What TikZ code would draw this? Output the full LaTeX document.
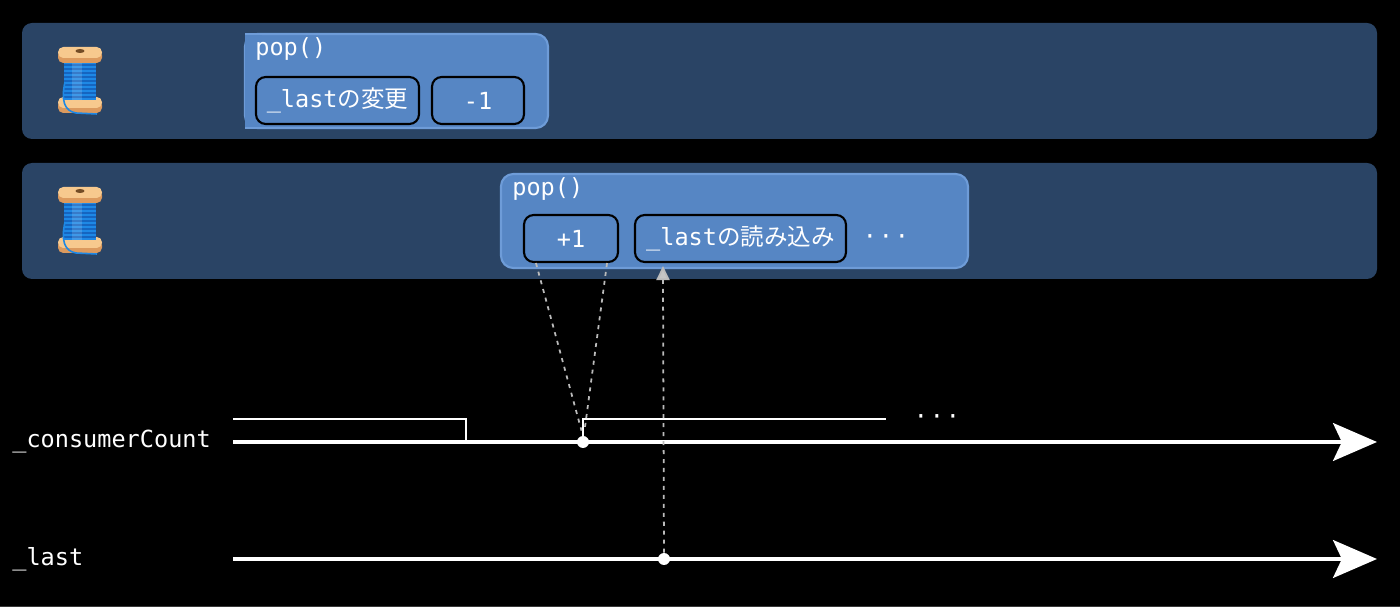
\documentclass[tikz,border=0pt]{standalone}
\usepackage{fontspec}
\setmonofont{DejaVu Sans Mono}
\newfontfamily\jpfont{Noto Sans CJK JP}
\usetikzlibrary{positioning,arrows.meta}
\definecolor{lanebg}{HTML}{2A4465}
\definecolor{popfill}{HTML}{5686C4}
\definecolor{popline}{HTML}{6E9CD8}
\definecolor{dotgray}{HTML}{BBBBBB}
\definecolor{flangelt}{HTML}{F7C98E}
\definecolor{flangedk}{HTML}{DC9A5E}
\definecolor{threadbl}{HTML}{1E88E5}
\definecolor{threaddk}{HTML}{1565C0}
\newcommand{\jp}[1]{{\jpfont #1}}
\newcommand{\spool}[1]{%
\begin{scope}[shift={#1}]
\fill[flangedk,rounded corners=3pt] (-22,20) rectangle (22,33);
\fill[flangelt,rounded corners=3pt] (-22,17) rectangle (22,28);
\fill[threadbl] (-16,-19) rectangle (16,20);
\foreach \s in {-15,-11,...,17} \draw[threaddk,line width=0.6pt] (-16,\s) -- (16,\s);
\fill[white,opacity=0.15] (-8,-19) rectangle (2,20);
\fill[flangedk,rounded corners=3pt] (-22,-30) rectangle (22,-17);
\fill[flangelt,rounded corners=3pt] (-22,-33) rectangle (22,-22);
\fill[brown!60!black] (0,-29) ellipse [x radius=0.09cm, y radius=0.04cm];
\draw[threadbl,line width=0.9pt] (-15,2) .. controls (-19,20) and (-16,31) .. (-4,33) -- (17,34);
\end{scope}}
\begin{document}
\begin{tikzpicture}[x=0.02cm,y=-0.02cm,
  every node/.style={font=\ttfamily\fontsize{13.4}{16}\selectfont,text=white},
  lane/.style={fill=lanebg,rounded corners=5.7pt},
  popbox/.style={fill=popfill,draw=popline,line width=1.2pt,rounded corners=7pt},
  opbox/.style={draw=black,line width=1.2pt,rounded corners=5.5pt,minimum height=0.94cm,inner sep=0pt},
  axis/.style={white,line width=2.3pt,-{Stealth[length=25pt,width=21.5pt,inset=5pt]}},
  level/.style={white,line width=1.1pt},
  link/.style={dotgray,line width=1pt,dash pattern=on 2.3pt off 2.8pt},
  pt/.style={circle,fill=white,inner sep=0pt,minimum size=0.24cm}]
\fill[black] (0,0) rectangle (1400,607);
\useasboundingbox (0,0) rectangle (1400,607);
\draw[gray!45!black,line width=0.6pt] (0,606.5) -- (1400,606.5);
% threads
\fill[lane] (22,23) rectangle (1377,139);
\fill[lane] (22,163) rectangle (1377,279);
\spool{(80,80)}
\spool{(80,220)}
% first pop()
\draw[popbox] (245,34) rectangle (548,128);
\fill[popfill] (245,34.6) rectangle (262,127.4);
\draw[popline,line width=1.2pt] (245,34) -- (262,34) (245,128) -- (262,128);
\node[anchor=west,inner sep=0pt] (popa) at (255,49) {pop()};
\node[opbox,minimum width=3.26cm] (setlast) at (337.5,100.5) {\_last\jp{の変更}};
\node[opbox,minimum width=1.84cm] (dec) at (478,100.5) {-1};
% second pop()
\draw[popbox] (501,174) rectangle (968,268);
\node[anchor=west,inner sep=0pt] (popb) at (512,189) {pop()};
\node[opbox,minimum width=1.88cm] (inc) at (571,238.5) {+1};
\node[opbox,minimum width=4.22cm] (readlast) at (740.5,238.5) {\_last\jp{の読み込み}};
\node (moreb) at (886,240) {·\kern1pt·\kern1pt·};
% timelines
\node[anchor=west,inner sep=0pt] (cclabel) at (12,442) {\_consumerCount};
\node[anchor=west,inner sep=0pt] (lastlabel) at (12,559) {\_last};
\coordinate (ccstart) at (233,442);
\coordinate (ccend) at (1377,442);
\coordinate (laststart) at (233,559);
\coordinate (lastend) at (1377,559);
\draw[axis] (ccstart) -- (ccend);
\draw[axis] (laststart) -- (lastend);
\draw[level] (233,419) -- (466,419) -- (466,442);
\draw[level] (583,442) -- (583,419) -- (886,419);
\node (morecc) at (937,420) {·\kern1pt·\kern1pt·};
\node[pt] (ccdot) at (583,442) {};
\node[pt] (lastdot) at (664,559) {};
% links
\draw[link] ([xshift=0.26cm]inc.south west) -- ([xshift=-0.03cm,yshift=0.1cm]ccdot.north);
\draw[link] ([xshift=-0.24cm]inc.south east) -- ([xshift=0.03cm,yshift=0.1cm]ccdot.north);
\draw[link,-{Triangle[length=8pt,width=7.5pt,fill=dotgray!85!white]}] (lastdot) -- ([xshift=0.58cm,yshift=-0.06cm]readlast.south west);
\end{tikzpicture}
\end{document}
